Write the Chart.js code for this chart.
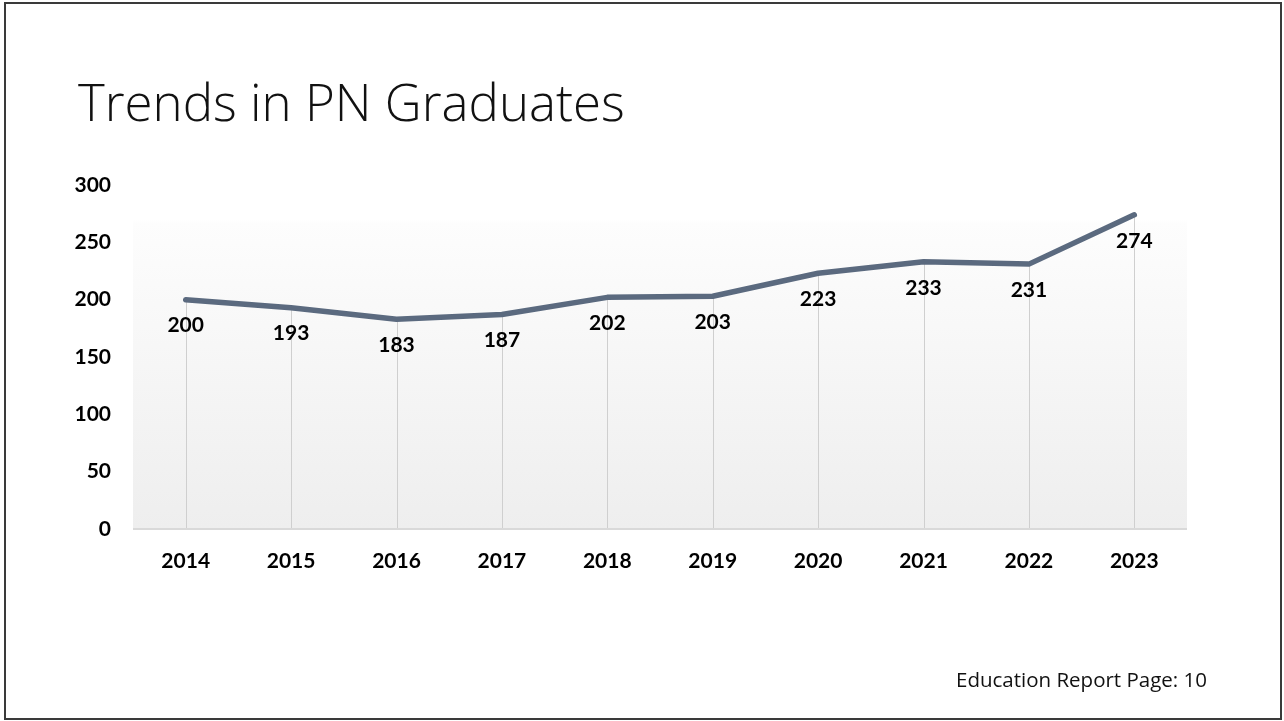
<!DOCTYPE html>
<html>
<head>
<meta charset="utf-8">
<script src="https://cdn.jsdelivr.net/npm/chart.js@4.4.1/dist/chart.umd.min.js"></script>
<style>
  html, body { margin: 0; padding: 0; background: #fff; }
  body { width: 1284px; height: 721px; position: relative; overflow: hidden; }
  #frame { position: absolute; left: 4px; top: 2px; width: 1274px; height: 714px; border: 2px solid #3a3a3a; }
  #title { position: absolute; left: 78px; top: 68px; font-family: 'Open Sans', sans-serif; font-weight: 300; font-size: 51px; line-height: 66px; color: #111; white-space: nowrap; }
  #footer { position: absolute; left: 956px; top: 666px; font-family: 'Open Sans', sans-serif; font-size: 20.5px; line-height: 26px; color: #111; white-space: nowrap; }
  #wrap { position: absolute; left: 0; top: 0; width: 1284px; height: 721px; }
</style>
</head>
<body>
<div id="frame"></div>
<div id="title">Trends in PN Graduates</div>
<div id="wrap"><canvas id="myChart"></canvas></div>
<div id="footer">Education Report Page: 10</div>
<script>
const years = ['2014', '2015', '2016', '2017', '2018', '2019', '2020', '2021', '2022', '2023'];
const graduates = [200, 193, 183, 187, 202, 203, 223, 233, 231, 274];
const yTicks = [0, 50, 100, 150, 200, 250, 300];

const tickFont = { family: 'Lato, sans-serif', size: 21, weight: 'bold' };

// plot area fill: white at top fading to light grey
const plotBackground = {
    id: 'plotBackground',
    beforeDatasetsDraw(chart) {
        const { ctx, chartArea: a } = chart;
        const g = ctx.createLinearGradient(0, a.top, 0, a.bottom);
        g.addColorStop(0, '#ffffff');
        g.addColorStop(0.1, '#ffffff');
        g.addColorStop(0.11, '#fdfdfd');
        g.addColorStop(1, '#eeeeee');
        ctx.save();
        ctx.fillStyle = g;
        ctx.fillRect(a.left, a.top, a.right - a.left, a.bottom - a.top);
        // drop lines from each point to the axis
        const meta = chart.getDatasetMeta(0);
        ctx.strokeStyle = '#cfcfcf';
        ctx.lineWidth = 1;
        meta.data.forEach(pt => {
            const x = Math.round(pt.x) + 0.5;
            ctx.beginPath();
            ctx.moveTo(x, pt.y);
            ctx.lineTo(x, a.bottom);
            ctx.stroke();
        });
        // bottom axis line
        ctx.strokeStyle = '#d9d9d9';
        ctx.lineWidth = 2;
        ctx.beginPath();
        ctx.moveTo(a.left, a.bottom);
        ctx.lineTo(a.right, a.bottom);
        ctx.stroke();
        ctx.restore();
    }
};

// value labels under each point
const valueLabels = {
    id: 'valueLabels',
    afterDatasetsDraw(chart) {
        const { ctx } = chart;
        const meta = chart.getDatasetMeta(0);
        ctx.save();
        ctx.font = 'bold 21px Lato, sans-serif';
        ctx.fillStyle = '#000';
        ctx.textAlign = 'center';
        ctx.textBaseline = 'middle';
        meta.data.forEach((pt, i) => {
            ctx.fillText(String(graduates[i]), pt.x, pt.y + 26);
        });
        ctx.restore();
    }
};

const ctx = document.getElementById('myChart').getContext('2d');
new Chart(ctx, {
    type: 'line',
    data: {
        labels: years,
        datasets: [{
            label: 'PN Graduates',
            data: graduates,
            borderColor: '#5b6a7f',
            borderWidth: 5.5,
            borderCapStyle: 'round',
            borderJoinStyle: 'round',
            pointRadius: 0,
            tension: 0,
            fill: false
        }]
    },
    options: {
        responsive: true,
        maintainAspectRatio: false,
        animation: false,
        layout: { padding: { left: 60, right: 97, top: 185, bottom: 0 } },
        plugins: {
            legend: { display: false },
            tooltip: { enabled: false }
        },
        scales: {
            x: {
                offset: true,
                grid: { display: false, drawTicks: false },
                border: { display: false },
                ticks: { color: '#000', font: tickFont, padding: 20, maxRotation: 0 },
                afterFit(scale) { scale.height = 192; }
            },
            y: {
                min: 0,
                max: 300,
                afterBuildTicks(scale) { scale.ticks = yTicks.map(v => ({ value: v })); },
                grid: { display: false, drawTicks: false },
                border: { display: false },
                ticks: { color: '#000', font: tickFont, padding: 22 },
                afterFit(scale) { scale.width = 73; }
            }
        }
    },
    plugins: [plotBackground, valueLabels]
});
</script>
</body>
</html>
